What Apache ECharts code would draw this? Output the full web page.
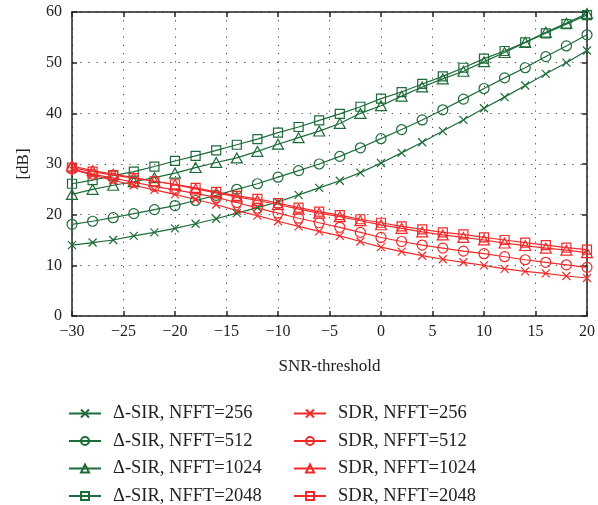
<!DOCTYPE html>
<html>
<head>
<meta charset="utf-8">
<script src="https://cdn.jsdelivr.net/npm/echarts@6/dist/echarts.min.js"></script>
<style>html,body{margin:0;padding:0;background:#fff}#c{width:598px;height:505px}</style>
</head>
<body>
<div id="c"></div>
<script>
const snr = [-30,-28,-26,-24,-22,-20,-18,-16,-14,-12,-10,-8,-6,-4,-2,0,2,4,6,8,10,12,14,16,18,20];
const sir256  = [14.0,14.5,15.0,15.8,16.5,17.3,18.2,19.2,20.3,21.4,22.5,23.9,25.3,26.7,28.3,30.2,32.2,34.3,36.5,38.7,41.0,43.2,45.5,47.8,50.0,52.4];
const sir512  = [18.1,18.7,19.4,20.2,21.0,21.8,22.8,23.8,25.0,26.1,27.4,28.7,30.0,31.5,33.2,35.0,36.8,38.7,40.7,42.8,44.9,47.0,49.0,51.2,53.3,55.5];
const sir1024 = [24.0,25.0,25.8,26.5,27.3,28.2,29.3,30.3,31.2,32.5,33.9,35.2,36.5,38.0,40.0,41.5,43.4,45.2,46.8,48.3,50.2,52.0,54.0,56.0,57.8,59.7];
const sir2048 = [26.1,26.8,27.7,28.5,29.5,30.6,31.6,32.7,33.8,34.9,36.2,37.3,38.6,39.9,41.3,42.9,44.2,45.8,47.3,49.0,50.8,52.3,54.0,55.8,57.6,59.4];
const sdr256  = [29.0,27.8,26.8,25.8,24.9,24.0,23.0,22.0,20.8,19.8,18.7,17.7,16.7,15.8,14.7,13.6,12.7,11.9,11.2,10.6,10.0,9.3,8.8,8.4,7.9,7.5];
const sdr512  = [29.0,28.0,27.2,26.4,25.6,24.9,24.2,23.4,22.4,21.3,20.3,19.3,18.4,17.5,16.5,15.5,14.7,14.0,13.4,12.8,12.3,11.7,11.1,10.6,10.1,9.6];
const sdr1024 = [29.6,28.7,28.0,27.3,26.6,25.9,25.1,24.3,23.5,22.8,22.0,21.1,20.3,19.6,18.8,18.0,17.3,16.6,16.0,15.5,15.0,14.4,13.9,13.4,13.0,12.5];
const sdr2048 = [29.3,28.5,27.8,27.2,26.6,26.0,25.3,24.5,23.7,23.1,22.3,21.4,20.6,19.9,19.1,18.4,17.7,17.1,16.5,16.1,15.5,15.0,14.5,14.0,13.5,13.1];
const seriesNames = ['Δ-SIR, NFFT=256','Δ-SIR, NFFT=512','Δ-SIR, NFFT=1024','Δ-SIR, NFFT=2048','SDR, NFFT=256','SDR, NFFT=512','SDR, NFFT=1024','SDR, NFFT=2048'];
const xTicks = {min:-30, max:20, step:5};
const yTicks = {min:0, max:60, step:10};

const GREEN = '#1d6b38', RED = '#f02a2a';
const SYM = {
  x: 'path://M0,0L10,10M10,0L0,10',
  o: 'path://M10,5A5,5 0 1,1 0,5A5,5 0 1,1 10,5Z',
  t: 'path://M5,0L10,9L0,9Z',
  s: 'path://M0,0L10,0L10,10L0,10Z'
};
const FONT = 'Liberation Serif';
function mk(name, data, color, sym, size) {
  return {
    name, type:'line', data: snr.map((x,i)=>[x,data[i]]),
    symbol: SYM[sym], symbolSize: size, symbolKeepAspect: true,
    showAllSymbol: true,
    lineStyle:{color, width:1.2},
    itemStyle:{color:'rgba(0,0,0,0)', borderColor:color, borderWidth:1.2},
    emphasis:{disabled:true}, animation:false
  };
}
const series = [
  mk(seriesNames[0], sir256, GREEN, 'x', 8),
  mk(seriesNames[1], sir512, GREEN, 'o', 10),
  mk(seriesNames[2], sir1024, GREEN, 't', 11),
  mk(seriesNames[3], sir2048, GREEN, 's', 9),
  mk(seriesNames[4], sdr256, RED, 'x', 8),
  mk(seriesNames[5], sdr512, RED, 'o', 10),
  mk(seriesNames[6], sdr1024, RED, 't', 11),
  mk(seriesNames[7], sdr2048, RED, 's', 9)
];
const minus = v => String(v).replace('-', '\u2212');
const splitStyle = {show:true, lineStyle:{color:'#444', width:1, type:[1.2,7]}};
const legendCommon = {
  orient:'vertical', top:399, height:125, itemWidth:32, itemHeight:10, itemGap:8.5,
  textStyle:{fontFamily:FONT, fontSize:18.5, color:'#222', padding:[0,0,0,7]},
  selectedMode:false
};
const chart = echarts.init(document.getElementById('c'), null, {renderer:'canvas'});
chart.setOption({
  animation:false,
  backgroundColor:'#fff',
  grid:{left:72, right:10, top:12, bottom:189},
  xAxis:[{
    type:'value', min:xTicks.min, max:xTicks.max, interval:xTicks.step,
    name:'SNR-threshold', nameLocation:'middle', nameGap:42,
    nameTextStyle:{fontFamily:FONT, fontSize:17, color:'#222'},
    axisLine:{show:true, onZero:false, lineStyle:{color:'#222', width:1.5}},
    axisTick:{show:true, inside:true, length:5, lineStyle:{color:'#222', width:1.5}},
    axisLabel:{fontFamily:FONT, fontSize:16, color:'#222', margin:8, formatter:minus},
    splitLine:splitStyle
  },{
    type:'value', position:'top', min:xTicks.min, max:xTicks.max, interval:xTicks.step,
    axisLine:{show:true, onZero:false, lineStyle:{color:'#222', width:1.5}},
    axisTick:{show:true, inside:true, length:5, lineStyle:{color:'#222', width:1.5}},
    axisLabel:{show:false}, splitLine:{show:false}
  }],
  yAxis:[{
    type:'value', min:yTicks.min, max:yTicks.max, interval:yTicks.step,
    name:'[dB]', nameLocation:'middle', nameGap:40, nameRotate:90,
    nameTextStyle:{fontFamily:FONT, fontSize:17, color:'#222'},
    axisLine:{show:true, onZero:false, lineStyle:{color:'#222', width:1.5}},
    axisTick:{show:true, inside:true, length:5, lineStyle:{color:'#222', width:1.5}},
    axisLabel:{fontFamily:FONT, fontSize:16, color:'#222', margin:10},
    splitLine:splitStyle
  },{
    type:'value', position:'right', min:yTicks.min, max:yTicks.max, interval:yTicks.step,
    axisLine:{show:true, onZero:false, lineStyle:{color:'#222', width:1.5}},
    axisTick:{show:true, inside:true, length:5, lineStyle:{color:'#222', width:1.5}},
    axisLabel:{show:false}, splitLine:{show:false}
  }],
  legend:[
    Object.assign({}, legendCommon, {left:63, data:seriesNames.slice(0,4)}),
    Object.assign({}, legendCommon, {left:288, data:seriesNames.slice(4,8)})
  ],
  series
});
</script>
</body>
</html>
